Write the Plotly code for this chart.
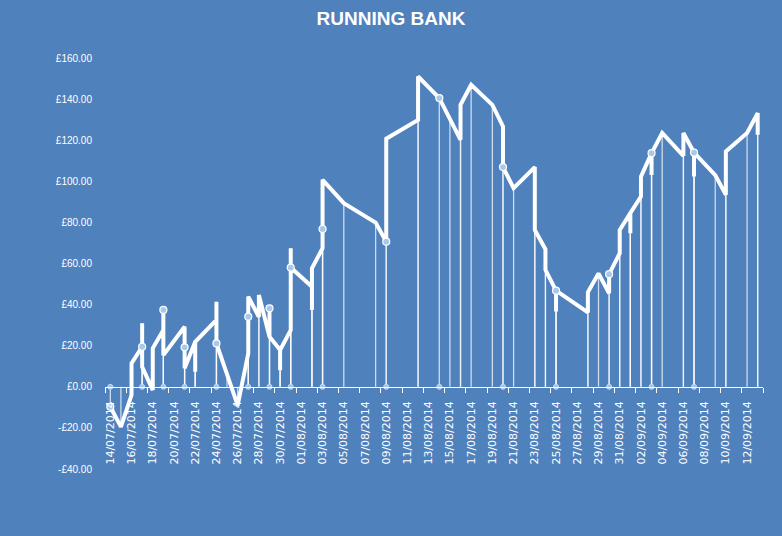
import plotly.graph_objects as go

# Running bank points in plotting order (several bets can fall on one date)
dates = [
    "2014-07-14", "2014-07-15", "2014-07-16", "2014-07-16",
    "2014-07-17", "2014-07-17", "2014-07-17",
    "2014-07-18", "2014-07-18",
    "2014-07-19", "2014-07-19", "2014-07-19",
    "2014-07-21", "2014-07-21", "2014-07-21",
    "2014-07-22", "2014-07-22", "2014-07-22",
    "2014-07-24", "2014-07-24", "2014-07-24",
    "2014-07-25", "2014-07-26",
    "2014-07-27", "2014-07-27", "2014-07-27",
    "2014-07-28", "2014-07-28",
    "2014-07-29", "2014-07-29", "2014-07-29",
    "2014-07-30", "2014-07-30", "2014-07-30",
    "2014-07-31", "2014-07-31", "2014-07-31",
    "2014-08-02", "2014-08-02", "2014-08-02",
    "2014-08-03", "2014-08-03", "2014-08-03",
    "2014-08-05", "2014-08-08",
    "2014-08-09", "2014-08-09",
    "2014-08-12", "2014-08-12",
    "2014-08-14", "2014-08-15",
    "2014-08-16", "2014-08-16",
    "2014-08-17", "2014-08-19",
    "2014-08-20", "2014-08-20",
    "2014-08-21",
    "2014-08-23", "2014-08-23",
    "2014-08-24", "2014-08-24",
    "2014-08-25", "2014-08-25", "2014-08-25",
    "2014-08-28", "2014-08-28",
    "2014-08-29",
    "2014-08-30", "2014-08-30",
    "2014-08-31", "2014-08-31",
    "2014-09-01", "2014-09-01", "2014-09-01",
    "2014-09-02", "2014-09-02",
    "2014-09-03", "2014-09-03", "2014-09-03",
    "2014-09-04",
    "2014-09-06", "2014-09-06",
    "2014-09-07", "2014-09-07", "2014-09-07",
    "2014-09-09",
    "2014-09-10", "2014-09-10",
    "2014-09-12",
    "2014-09-13", "2014-09-13",
]
bank = [
    -9.7, -19.5, -4.0, 11.4,
    19.5, 30.9, 9.7,
    -1.6, 18.7,
    27.6, 37.4, 15.4,
    29.2, 19.2, 9.0,
    21.9, 7.3, 21.9,
    32.5, 41.4, 21.1,
    6.0, -9.0,
    16.3, 34.1, 43.9,
    34.0, 44.7,
    24.4, 38.2, 24.4,
    17.9, 8.1, 17.9,
    27.6, 67.4, 58.0,
    48.7, 37.4, 57.7,
    67.4, 76.8, 100.7,
    89.4, 79.9,
    70.6, 120.7,
    129.9, 151.0,
    140.5, 130.0,
    120.2, 137.2,
    147.0, 137.2,
    126.7, 106.9,
    96.7,
    106.9, 76.3,
    66.9, 56.9,
    46.8, 36.6, 46.8,
    36.2, 46.0,
    55.2,
    45.5, 54.8,
    65.0, 76.3,
    84.5, 74.7, 84.5,
    92.6, 102.3,
    113.7, 103.1, 113.7,
    123.5,
    112.4, 123.5,
    114.0, 102.3, 114.0,
    103.0,
    93.4, 114.5,
    123.5,
    133.2, 122.6,
]

# Circled points on the line (and their markers on the zero axis)
marker_dates = [
    "2014-07-14", "2014-07-17", "2014-07-19", "2014-07-21", "2014-07-24",
    "2014-07-27", "2014-07-29", "2014-07-31", "2014-08-03", "2014-08-09",
    "2014-08-14", "2014-08-20", "2014-08-25", "2014-08-30", "2014-09-03",
    "2014-09-07",
]
marker_values = [
    -9.7, 19.5, 37.4, 19.2, 21.1,
    34.1, 38.2, 58.0, 76.8, 70.6,
    140.5, 106.9, 46.8, 54.8, 113.7,
    114.0,
]

ytick_vals = [-40, -20, 0, 20, 40, 60, 80, 100, 120, 140, 160]
ytick_text = ["-£40.00", "-£20.00", "£0.00", "£20.00", "£40.00", "£60.00",
              "£80.00", "£100.00", "£120.00", "£140.00", "£160.00"]

BG = "#4F81BD"
DAY_MS = 86400000

# drop lines from each point to the zero axis
drop_x, drop_y = [], []
for d, v in zip(dates, bank):
    drop_x += [d, d, None]
    drop_y += [0, v, None]

fig = go.Figure()
fig.add_trace(go.Scatter(
    x=drop_x, y=drop_y, mode="lines",
    line=dict(color="rgba(255,255,255,0.72)", width=1.3),
    hoverinfo="skip", showlegend=False,
))
fig.add_trace(go.Scatter(
    x=dates, y=bank, mode="lines",
    line=dict(color="white", width=4),
    showlegend=False, name="Running bank",
))
fig.add_trace(go.Scatter(
    x=marker_dates, y=[0] * len(marker_dates), mode="markers",
    marker=dict(size=5, color="#9FC2E7", line=dict(color="#C9DCF1", width=1)),
    showlegend=False, hoverinfo="skip",
))
fig.add_trace(go.Scatter(
    x=marker_dates, y=marker_values, mode="markers",
    marker=dict(size=7, color="#A9C8EA", line=dict(color="white", width=1.2)),
    showlegend=False,
))

fig.update_layout(
    width=782, height=536,
    paper_bgcolor=BG, plot_bgcolor=BG,
    margin=dict(l=105, r=19, t=58, b=67, autoexpand=False),
    title=dict(
        text="<b>RUNNING BANK</b>", x=0.5, xanchor="center",
        y=1 - 18 / 536, yref="container", yanchor="middle",
        font=dict(family="Liberation Sans", size=19, color="white"),
    ),
    xaxis=dict(
        type="date",
        range=["2014-07-13 12:00", "2014-09-13 12:00"],
        anchor="free", position=0.2,
        showline=True, linecolor="white", linewidth=1,
        showgrid=False, zeroline=False,
        tick0="2014-07-14", dtick=2 * DAY_MS, tickformat="%d/%m/%Y",
        tickangle=-90, ticks="",
        ticklabelstandoff=9,
        tickfont=dict(family="DejaVu Sans", size=11, color="white"),
        minor=dict(ticks="outside", ticklen=5, tickcolor="white", tickwidth=1,
                   tick0="2014-07-13 12:00", dtick=2 * DAY_MS, showgrid=False),
        automargin=False,
    ),
    yaxis=dict(
        range=[-40, 160],
        tickmode="array", tickvals=ytick_vals, ticktext=ytick_text,
        showgrid=False, zeroline=False, showline=False, ticks="",
        ticklabelstandoff=12,
        tickfont=dict(family="Liberation Sans", size=10, color="white"),
        automargin=False,
    ),
)

fig.write_html(
    "out.html",
    config={"displayModeBar": False},
    post_script="document.body.style.margin='0px';document.body.style.background='" + BG + "';",
)
